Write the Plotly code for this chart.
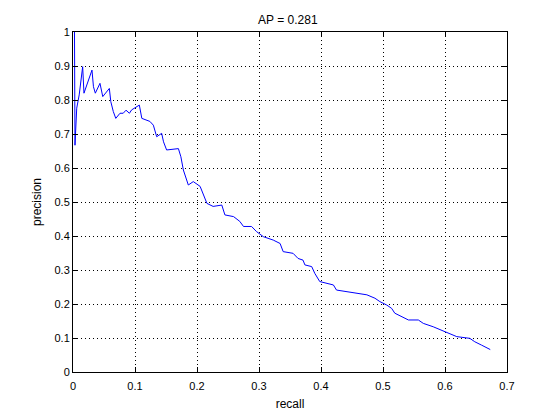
import plotly.graph_objects as go

recall = [0.0016, 0.0024, 0.0032, 0.0048, 0.006, 0.010, 0.0156, 0.0177, 0.0306, 0.033, 0.036,
          0.0435, 0.048, 0.0586, 0.061, 0.065, 0.069, 0.0758, 0.081, 0.0855, 0.091, 0.0946,
          0.107, 0.111, 0.124, 0.1296, 0.135, 0.143, 0.146, 0.151, 0.160, 0.170, 0.174, 0.178,
          0.186, 0.194, 0.205, 0.216, 0.226, 0.240, 0.245, 0.259, 0.269, 0.275, 0.288, 0.296,
          0.307, 0.323, 0.334, 0.339, 0.355, 0.363, 0.371, 0.374, 0.385, 0.390, 0.398, 0.409,
          0.420, 0.425, 0.441, 0.458, 0.474, 0.487, 0.495, 0.506, 0.514, 0.519, 0.530, 0.541,
          0.557, 0.565, 0.581, 0.592, 0.605, 0.619, 0.640, 0.648, 0.659, 0.673]
precision = [1.0, 1.0, 0.667, 0.72, 0.776, 0.815, 0.898, 0.82, 0.888, 0.839, 0.82,
             0.849, 0.81, 0.834, 0.795, 0.766, 0.746, 0.761, 0.761, 0.77, 0.761, 0.771,
             0.785, 0.746, 0.737, 0.726, 0.692, 0.702, 0.677, 0.653, 0.655, 0.657, 0.633, 0.594,
             0.55, 0.56, 0.546, 0.496, 0.487, 0.491, 0.462, 0.457, 0.443, 0.428, 0.428, 0.413,
             0.398, 0.388, 0.378, 0.354, 0.349, 0.334, 0.329, 0.315, 0.31, 0.29, 0.266, 0.261,
             0.256, 0.241, 0.237, 0.232, 0.227, 0.217, 0.207, 0.197, 0.187, 0.173, 0.163, 0.153,
             0.153, 0.143, 0.133, 0.124, 0.114, 0.104, 0.099, 0.089, 0.079, 0.066]

x_ticks = [0, 0.1, 0.2, 0.3, 0.4, 0.5, 0.6, 0.7]
x_labels = ["0", "0.1", "0.2", "0.3", "0.4", "0.5", "0.6", "0.7"]
y_ticks = [0, 0.1, 0.2, 0.3, 0.4, 0.5, 0.6, 0.7, 0.8, 0.9, 1]
y_labels = ["0", "0.1", "0.2", "0.3", "0.4", "0.5", "0.6", "0.7", "0.8", "0.9", "1"]

FONT = "Liberation Sans, Arial"

fig = go.Figure()
fig.add_trace(go.Scatter(x=recall, y=precision, mode="lines",
                         line=dict(color="#0000ff", width=1), showlegend=False))

axis_common = dict(
    showline=True, linecolor="black", linewidth=1, mirror="ticks",
    ticks="inside", ticklen=5, tickcolor="black", tickwidth=1,
    showgrid=True, gridcolor="black", gridwidth=1, griddash="1px,3px",
    zeroline=False, automargin=False,
    tickfont=dict(family=FONT, size=11, color="black"),
)

fig.update_xaxes(range=[0, 0.7], tickvals=x_ticks, ticktext=x_labels, ticklabelstandoff=4,
                 title=dict(text="recall", font=dict(family=FONT, size=12, color="black"), standoff=8),
                 **axis_common)
fig.update_yaxes(range=[0, 1], tickvals=y_ticks, ticktext=y_labels,
                 title=dict(text="precision", font=dict(family=FONT, size=12, color="black"), standoff=10),
                 **axis_common)

fig.update_layout(
    width=552, height=412,
    margin=dict(l=65, r=53, t=24, b=48),
    paper_bgcolor="white", plot_bgcolor="white",
    title=dict(text="AP = 0.281", x=0.507, xanchor="center", y=0.971, yanchor="middle",
               font=dict(family=FONT, size=12, color="black")),
)

fig.write_html("out.html")
